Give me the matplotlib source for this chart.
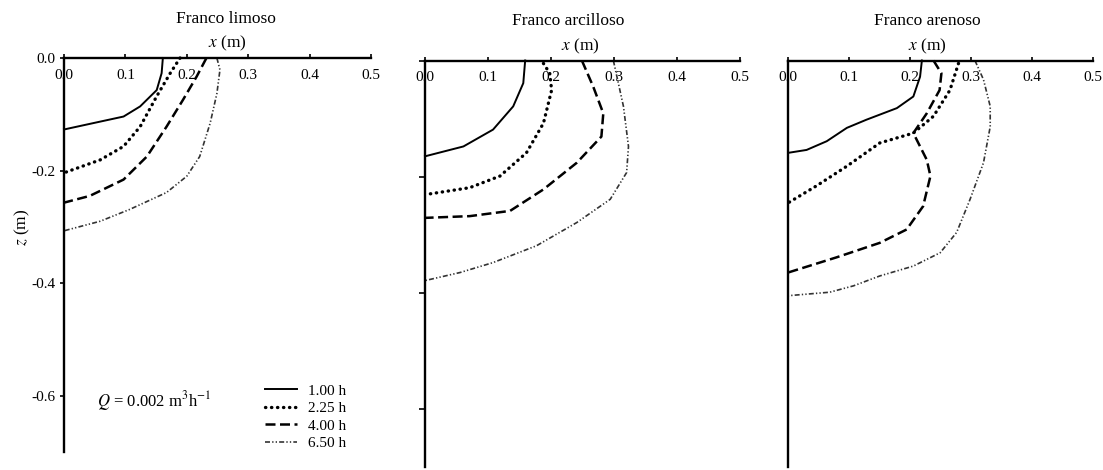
import matplotlib.pyplot as plt
import numpy as np

plt.rcParams['font.family'] = 'Liberation Serif'
plt.rcParams['mathtext.fontset'] = 'stix'
plt.rcParams['axes.unicode_minus'] = False

soils = ['Franco limoso', 'Franco arcilloso', 'Franco arenoso']
times = ['1.00 h', '2.25 h', '4.00 h', '6.50 h']
x_ticks = [0.0, 0.1, 0.2, 0.3, 0.4, 0.5]
z_ticks = [0.0, -0.2, -0.4, -0.6]

### Franco limoso (wetting fronts)
lim_100_x = [0.161, 0.159, 0.151, 0.124, 0.097, 0.059, 0.0]
lim_100_z = [0.0, -0.027, -0.057, -0.086, -0.104, -0.113, -0.127]
lim_225_x = [0.189, 0.173, 0.151, 0.124, 0.097, 0.059, 0.0]
lim_225_z = [0.0, -0.027, -0.068, -0.122, -0.157, -0.181, -0.204]
lim_400_x = [0.232, 0.216, 0.194, 0.167, 0.135, 0.097, 0.042, 0.0]
lim_400_z = [0.0, -0.033, -0.074, -0.122, -0.175, -0.216, -0.245, -0.257]
lim_650_x = [0.249, 0.254, 0.249, 0.238, 0.221, 0.200, 0.167, 0.107, 0.059, 0.0]
lim_650_z = [0.0, -0.021, -0.063, -0.116, -0.175, -0.210, -0.239, -0.269, -0.290, -0.307]

### Franco arcilloso
arc_100_x = [0.159, 0.156, 0.140, 0.108, 0.061, 0.0]
arc_100_z = [0.0, -0.039, -0.079, -0.119, -0.148, -0.165]
arc_225_x = [0.188, 0.198, 0.201, 0.188, 0.161, 0.119, 0.071, 0.0]
arc_225_z = [-0.005, -0.022, -0.051, -0.108, -0.159, -0.199, -0.219, -0.231]
arc_400_x = [0.249, 0.267, 0.283, 0.280, 0.241, 0.188, 0.135, 0.071, 0.0]
arc_400_z = [0.0, -0.045, -0.091, -0.131, -0.176, -0.222, -0.259, -0.268, -0.271]
arc_650_x = [0.299, 0.315, 0.323, 0.320, 0.294, 0.241, 0.177, 0.108, 0.056, 0.0]
arc_650_z = [0.0, -0.079, -0.148, -0.193, -0.239, -0.279, -0.319, -0.348, -0.365, -0.379]

### Franco arenoso
are_100_x = [0.219, 0.216, 0.205, 0.178, 0.128, 0.096, 0.063, 0.030, 0.0]
are_100_z = [0.0, -0.028, -0.062, -0.082, -0.102, -0.116, -0.139, -0.154, -0.159]
are_225_x = [0.279, 0.265, 0.238, 0.205, 0.150, 0.096, 0.046, 0.0]
are_225_z = [-0.005, -0.051, -0.096, -0.125, -0.142, -0.182, -0.216, -0.245]
are_400_x = [0.238, 0.251, 0.248, 0.227, 0.205, 0.227, 0.233, 0.221, 0.194, 0.150, 0.079, 0.0]
are_400_z = [0.0, -0.022, -0.051, -0.091, -0.125, -0.171, -0.199, -0.251, -0.291, -0.314, -0.339, -0.365]
are_650_x = [0.306, 0.320, 0.331, 0.331, 0.320, 0.298, 0.276, 0.249, 0.205, 0.150, 0.107, 0.068, 0.0]
are_650_z = [0.0, -0.033, -0.079, -0.114, -0.176, -0.239, -0.296, -0.331, -0.354, -0.371, -0.388, -0.399, -0.405]

curves = [
  [(lim_100_x, lim_100_z), (lim_225_x, lim_225_z), (lim_400_x, lim_400_z), (lim_650_x, lim_650_z)],
  [(arc_100_x, arc_100_z), (arc_225_x, arc_225_z), (arc_400_x, arc_400_z), (arc_650_x, arc_650_z)],
  [(are_100_x, are_100_z), (are_225_x, are_225_z), (are_400_x, are_400_z), (are_650_x, are_650_z)],
]

styles = [dict(ls='-', lw=1.4, color='k'),
          dict(ls=(0, (0.1, 1.7)), lw=2.4, color='k', dash_capstyle='round'),
          dict(ls=(0, (4, 1.8)), lw=1.8, color='k'),
          dict(ls=(0, (3, 1.3, 0.8, 1.3, 0.8, 1.3)), lw=1.2, color='#333333')]

W, H = 1103., 470.
def px(x, y):
  return x / W, 1 - y / H

fig = plt.figure(figsize=(11.03, 4.70), dpi=100)
rects = [[64/W, 1-452/H, 307/W, 394/H],
         [425/W, 1-467/H, 315/W, 406.5/H],
         [788.3/W, 1-467/H, 305/W, 406.5/H]]
axes = [fig.add_axes(r) for r in rects]

for i, ax in enumerate(axes):
  for (xs, zs), st in zip(curves[i], styles):
    ax.plot(xs, zs, clip_on=False, **st)
  ax.set_xlim(0, 0.5); ax.set_ylim(-0.7, 0)
  for s in ['right', 'bottom']:
    ax.spines[s].set_visible(False)
  for s in ['left', 'top']:
    ax.spines[s].set_linewidth(1.7)
  ax.set_xticks(x_ticks)
  ax.set_xticklabels(['%.1f' % v for v in x_ticks])
  ax.tick_params(axis='x', top=True, labeltop=True, bottom=False, labelbottom=False,
                 direction='out', length=3, width=1.2, pad=-20, labelsize=11)
  ax.set_yticks(z_ticks)
  if i == 0:
    ax.set_yticklabels(['%.1f' % v for v in z_ticks])
    ax.tick_params(axis='y', direction='out', length=3, width=1.2, pad=3, labelsize=11)
  elif i == 1:
    ax.set_yticklabels([])
    ax.tick_params(axis='y', direction='out', length=4, width=1.2)
  else:
    ax.set_yticklabels([])
    ax.tick_params(axis='y', length=0)
  ax.patch.set_alpha(0)

### titles and axis labels
fig.text(*px(226, 19), soils[0], ha='center', va='center', fontsize=12.5)
fig.text(*px(227, 43), '$x$ (m)', ha='center', va='center', fontsize=12.5)
fig.text(*px(568, 21), soils[1], ha='center', va='center', fontsize=12.5)
fig.text(*px(580, 46), '$x$ (m)', ha='center', va='center', fontsize=12.5)
fig.text(*px(927, 21), soils[2], ha='center', va='center', fontsize=12.5)
fig.text(*px(927, 46), '$x$ (m)', ha='center', va='center', fontsize=12.5)
fig.text(*px(22, 227), '$z$ (m)', ha='center', va='center', rotation=90, fontsize=12.5)
fig.text(*px(97, 401), '$Q$ = 0.002 m$^{3}$h$^{-1}$', ha='left', va='center', fontsize=12)

handles = axes[0].get_lines()
axes[0].legend(handles, times, loc='upper left', bbox_to_anchor=px(265, 384),
               bbox_transform=fig.transFigure, frameon=False, fontsize=11,
               borderpad=0, borderaxespad=0, handlelength=2.1, handletextpad=0.7,
               labelspacing=0.25)

fig.savefig('out.png', dpi=100)
